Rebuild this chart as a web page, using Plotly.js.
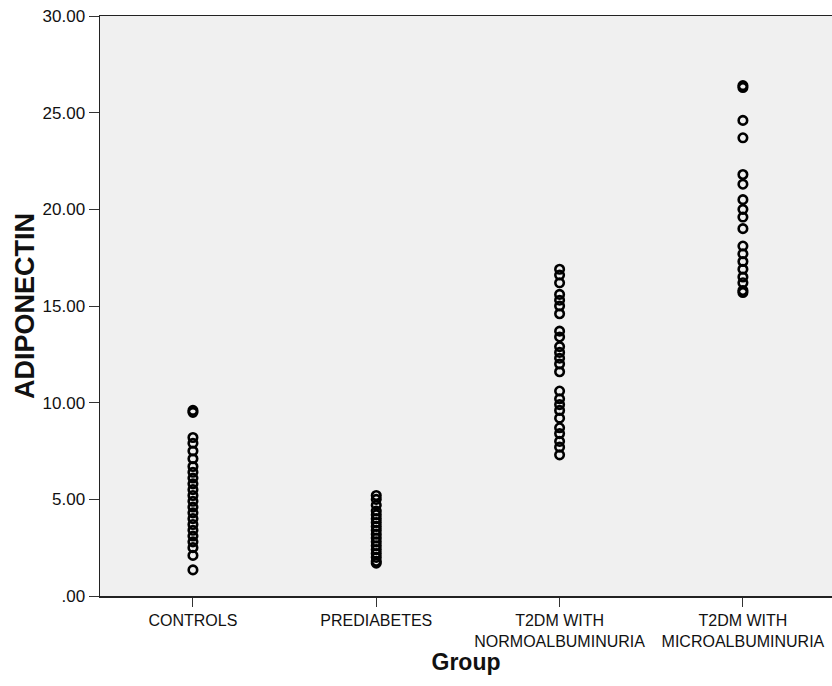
<!DOCTYPE html>
<html>
<head>
<meta charset="utf-8">
<script src="https://cdn.plot.ly/plotly-3.0.1.min.js"></script>
<style>html,body{margin:0;padding:0;background:#fff;}#chart{width:832px;height:686px;}</style>
</head>
<body>
<div id="chart"></div>
<script>
const categories = ["CONTROLS", "PREDIABETES", "T2DM WITH NORMOALBUMINURIA", "T2DM WITH MICROALBUMINURIA"];
const tickLabels = ["CONTROLS", "PREDIABETES", "T2DM WITH<br>NORMOALBUMINURIA", "T2DM WITH<br>MICROALBUMINURIA"];

const controls = [9.6, 9.5, 8.2, 7.9, 7.5, 7.1, 6.7, 6.4, 6.1, 5.8, 5.5, 5.2, 4.9, 4.6, 4.3, 4.0, 3.7, 3.4, 3.1, 2.8, 2.5, 2.1, 1.35];
const prediabetes = [5.2, 5.0, 4.7, 4.4, 4.2, 4.0, 3.8, 3.6, 3.4, 3.2, 3.0, 2.8, 2.6, 2.4, 2.2, 2.0, 1.8, 1.7];
const normo = [16.9, 16.6, 16.2, 15.6, 15.3, 15.0, 14.6, 13.7, 13.4, 12.9, 12.6, 12.3, 12.0, 11.6, 10.6, 10.2, 9.9, 9.6, 9.2, 8.7, 8.4, 8.0, 7.7, 7.3];
const micro = [26.4, 26.3, 24.6, 23.7, 21.8, 21.3, 20.5, 20.0, 19.6, 19.0, 18.1, 17.7, 17.3, 16.9, 16.5, 16.2, 15.8, 15.7];

const yTickVals = [0, 5, 10, 15, 20, 25, 30];
const yTickText = [".00", "5.00", "10.00", "15.00", "20.00", "25.00", "30.00"];

const groups = [controls, prediabetes, normo, micro];
const xs = [], ys = [];
groups.forEach((g, i) => g.forEach(v => { xs.push(i); ys.push(v); }));

const trace = {
  type: "scatter",
  mode: "markers",
  x: xs,
  y: ys,
  marker: {symbol: "circle-open", color: "#000", size: 8.5, line: {width: 2.6, color: "#000"}},
  hoverinfo: "none",
  showlegend: false
};

const layout = {
  width: 832, height: 686,
  margin: {l: 100, r: 0, t: 16, b: 90},
  paper_bgcolor: "#ffffff",
  plot_bgcolor: "#f0f0f0",
  font: {family: "Liberation Sans, Arial, sans-serif", color: "#000"},
  xaxis: {
    range: [-0.507, 3.486],
    tickvals: [0, 1, 2, 3],
    ticktext: tickLabels,
    ticks: "outside", ticklen: 9, tickwidth: 1, tickcolor: "#333",
    showgrid: false, zeroline: false,
    showline: true, linecolor: "#222", linewidth: 1.5, mirror: true,
    tickfont: {size: 16, family: "Liberation Sans, Arial, sans-serif", color: "#111"},
    title: {text: "Group", font: {size: 23, family: "Liberation Sans, Arial, sans-serif", weight: "bold", color: "#111"}, standoff: 0}
  },
  yaxis: {
    range: [0, 30],
    tickvals: yTickVals,
    ticktext: yTickText,
    ticks: "outside", ticklen: 10, tickwidth: 1, tickcolor: "#333",
    showgrid: false, zeroline: false,
    showline: true, linecolor: "#222", linewidth: 1.5, mirror: false,
    tickfont: {size: 17, family: "Liberation Sans, Arial, sans-serif", color: "#111"},
    title: {text: "ADIPONECTIN", font: {size: 27, family: "Liberation Sans, Arial, sans-serif", weight: "bold", color: "#111"}, standoff: 0}
  }
};

Plotly.newPlot("chart", [trace], layout, {displayModeBar: false, staticPlot: true});
</script>
</body>
</html>
